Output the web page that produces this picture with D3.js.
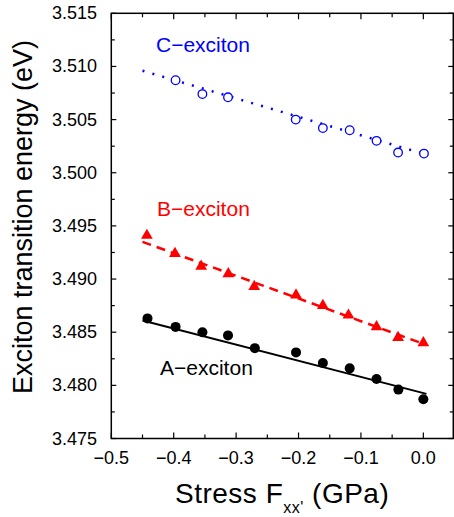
<!DOCTYPE html>
<html>
<head>
<meta charset="utf-8">
<script src="https://cdn.jsdelivr.net/npm/d3@7"></script>
<style>
  body { margin: 0; background: #fff; }
  text { font-family: "Liberation Sans", Arial, sans-serif; }
</style>
</head>
<body>
<div id="chart"></div>
<script>
// values
const stressA = [-0.442, -0.397, -0.354, -0.313, -0.270, -0.204, -0.161, -0.118, -0.075, -0.040, 0.0]
const energyA = [3.4863, 3.4855, 3.4850, 3.4847, 3.4835, 3.4831, 3.4821, 3.4816, 3.4806, 3.4796, 3.4787]
const stressB = [-0.443, -0.398, -0.356, -0.3125, -0.271, -0.204, -0.161, -0.120, -0.075, -0.0405, 0.0]
const energyB = [3.4941, 3.4924, 3.4912, 3.4905, 3.4893, 3.4885, 3.4875, 3.4866, 3.4855, 3.4845, 3.4840]
const stressC = [-0.397, -0.354, -0.313, -0.2045, -0.161, -0.118, -0.075, -0.0405, 0.001]
const energyC = [3.5087, 3.5074, 3.5071, 3.5050, 3.5042, 3.5040, 3.5030, 3.5019, 3.5018]

// linear fits
const fitStress = [-0.45, 0.005]
const fitA = [3.4861, 3.4792]
const fitB = [3.4935, 3.4838]
const fitC = [3.5096, 3.5017]

const xTicks = [-0.5, -0.4, -0.3, -0.2, -0.1, 0.0]
const yTicks = [3.475, 3.480, 3.485, 3.490, 3.495, 3.500, 3.505, 3.510, 3.515]
const seriesLabels = ["A\u2212exciton", "B\u2212exciton", "C\u2212exciton"]

const W = 454, H = 517
  , plotLeft = 111.3, plotRight = 453.3, plotTop = 13.3, plotBottom = 438.5

var x = d3.scaleLinear().domain([-0.5, 0.048]).range([plotLeft, plotRight])
var y = d3.scaleLinear().domain([3.475, 3.515]).range([plotBottom, plotTop])

var svg = d3.select("#chart")
  .append("svg")
  .attr("width", W)
  .attr("height", H)

svg.append("rect")
  .attr("width", W).attr("height", H)
  .style("fill", "#fff")

function zip(xs, ys) {
  return xs.map(function(d, i) { return {x: d, y: ys[i]}; })
}

var line = d3.line()
  .x(function(d) { return x(d.x); })
  .y(function(d) { return y(d.y); })

// ticks (inward), minor ticks at half steps
var xMinor = d3.range(-0.5, 0.0001, 0.05)
var yMinor = d3.range(3.475, 3.5151, 0.0025)

var tickGroup = svg.append("g").style("stroke", "#000").style("stroke-width", 1.2)
xMinor.forEach(function(v) {
  var major = Math.abs(Math.round(v * 10) - v * 10) < 1e-6
  var len = major ? 6 : 4
  tickGroup.append("line")
    .attr("x1", x(v)).attr("x2", x(v))
    .attr("y1", plotBottom).attr("y2", plotBottom - len)
  tickGroup.append("line")
    .attr("x1", x(v)).attr("x2", x(v))
    .attr("y1", plotTop).attr("y2", plotTop + len)
})
yMinor.forEach(function(v) {
  var major = Math.abs(Math.round(v * 200) - v * 200) < 1e-6
  var len = major ? 5 : 3.5
  tickGroup.append("line")
    .attr("x1", plotLeft).attr("x2", plotLeft + len)
    .attr("y1", y(v)).attr("y2", y(v))
  tickGroup.append("line")
    .attr("x1", plotRight).attr("x2", plotRight - len)
    .attr("y1", y(v)).attr("y2", y(v))
})

svg.append("rect")
  .attr("x", plotLeft).attr("y", plotTop)
  .attr("width", plotRight - plotLeft).attr("height", plotBottom - plotTop)
  .style("fill", "none")
  .style("stroke", "#000")
  .style("stroke-width", 1.5)

// tick labels
svg.selectAll(".xlabel")
  .data(xTicks)
  .enter().append("text")
  .attr("class", "xlabel")
  .attr("x", function(d) { return x(d); })
  .attr("y", 464)
  .attr("text-anchor", "middle")
  .style("font-size", "18px")
  .text(function(d) { return d.toFixed(1).replace("-", "\u2212"); })

svg.selectAll(".ylabel")
  .data(yTicks)
  .enter().append("text")
  .attr("class", "ylabel")
  .attr("x", 97)
  .attr("y", function(d) { return y(d) + 6; })
  .attr("text-anchor", "end")
  .style("font-size", "18px")
  .text(function(d) { return d.toFixed(3); })

// axis titles
var xTitle = svg.append("text")
  .attr("x", 175)
  .attr("y", 503)
  .style("font-size", "28px")
  .style("letter-spacing", "0.5px")
xTitle.append("tspan").text("Stress F")
xTitle.append("tspan").attr("dy", 10).style("font-size", "16px").text("xx'")
xTitle.append("tspan").attr("dy", -10).text("  (GPa)")

svg.append("text")
  .attr("transform", "translate(32," + 217 + ") rotate(-90)")
  .attr("text-anchor", "middle")
  .style("font-size", "27px")
  .text("Exciton transition energy (eV)")

// fit lines
svg.append("path")
  .datum(zip(fitStress, fitA))
  .attr("d", line)
  .style("fill", "none").style("stroke", "#000").style("stroke-width", 2)
svg.append("path")
  .datum(zip(fitStress, fitB))
  .attr("d", line)
  .style("fill", "none").style("stroke", "#ff0000").style("stroke-width", 2.5)
  .style("stroke-dasharray", "9,6")
svg.append("path")
  .datum(zip(fitStress, fitC))
  .attr("d", line)
  .style("fill", "none").style("stroke", "#0000ff").style("stroke-width", 2.5)
  .style("stroke-dasharray", "2,8.3")

// markers
svg.selectAll(".ptA")
  .data(zip(stressA, energyA))
  .enter().append("circle")
  .attr("class", "ptA")
  .attr("cx", function(d) { return x(d.x); })
  .attr("cy", function(d) { return y(d.y); })
  .attr("r", 5)
  .style("fill", "#000")

var tri = d3.symbol().type(d3.symbolTriangle).size(60)
svg.selectAll(".ptB")
  .data(zip(stressB, energyB))
  .enter().append("path")
  .attr("class", "ptB")
  .attr("transform", function(d) { return "translate(" + x(d.x) + "," + y(d.y) + ")"; })
  .attr("d", tri)
  .style("fill", "#ff0000")

svg.selectAll(".ptC")
  .data(zip(stressC, energyC))
  .enter().append("circle")
  .attr("class", "ptC")
  .attr("cx", function(d) { return x(d.x); })
  .attr("cy", function(d) { return y(d.y); })
  .attr("r", 4.3)
  .style("fill", "#fff")
  .style("stroke", "#0000ff")
  .style("stroke-width", 1.3)

// series labels
const labelColors = ["#000", "#ff0000", "#0000ff"]
  , labelX = [160, 157, 156]
  , labelY = [375, 216, 52]
seriesLabels.forEach(function(s, i) {
  svg.append("text")
    .attr("x", labelX[i])
    .attr("y", labelY[i])
    .style("font-size", "21px")
    .style("fill", labelColors[i])
    .text(s)
})
</script>
</body>
</html>
